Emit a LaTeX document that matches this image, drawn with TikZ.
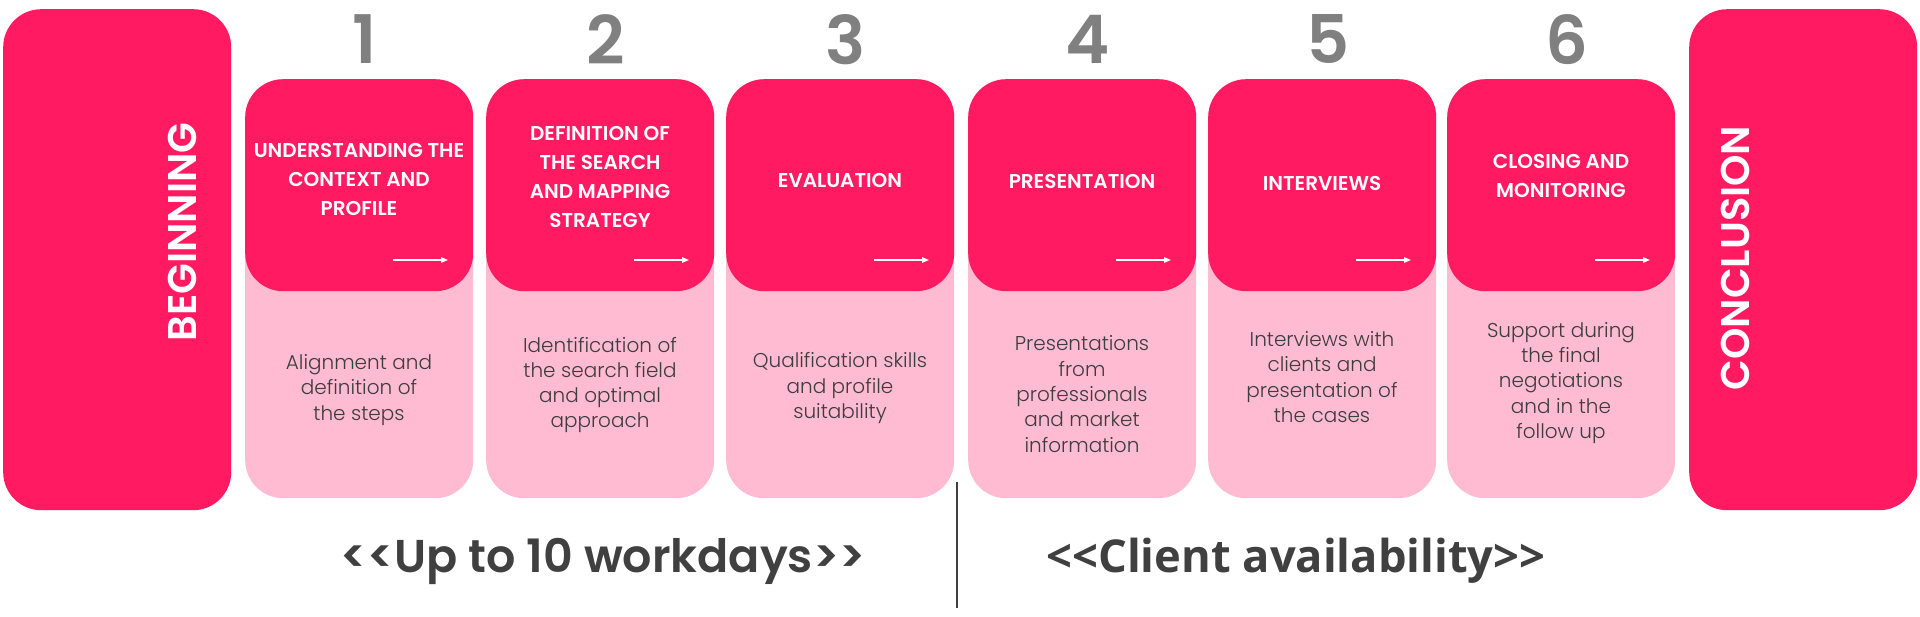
\documentclass[tikz,border=0pt]{standalone}
\usepackage{fontspec}
\usetikzlibrary{arrows.meta}
\newfontfamily\poppins{Poppins}
\IfFontExistsTF{Poppins Light}{\newfontfamily\bodyfont{Poppins Light}}{\newcommand\bodyfont{\poppins}}
\IfFontExistsTF{Poppins SemiBold}{\newfontfamily\headfont{Poppins SemiBold}}{\newcommand\headfont{\poppins\bfseries}}
\newfontfamily\opensans{Open Sans}
\definecolor{mag}{HTML}{FF1A62}
\definecolor{lpink}{HTML}{FFBBD1}
\definecolor{numgrey}{HTML}{808080}
\definecolor{bodygrey}{HTML}{3D3D3D}
\definecolor{botgrey}{HTML}{404040}
\tikzset{
  endbox/.style={fill=mag, rounded corners=38pt, minimum width=228pt, minimum height=501pt, inner sep=0pt, anchor=north west},
  darkbox/.style={fill=mag, rounded corners=38pt, minimum width=228pt, minimum height=212pt, inner sep=0pt, anchor=north west},
  lightbox/.style={fill=lpink, rounded corners=38pt, minimum width=228pt, minimum height=419pt, inner sep=0pt, anchor=north west},
  numtext/.style={text=numgrey, inner sep=0pt, font=\headfont\fontsize{67}{67}\selectfont},
  headtext/.style={text=white, align=center, inner sep=0pt, font=\headfont\fontsize{20}{29}\selectfont},
  bodytext/.style={text=bodygrey, align=center, inner sep=0pt, font=\bodyfont\fontsize{20}{25.3}\selectfont},
  endtext/.style={text=white, rotate=90, inner sep=0pt, font=\headfont\fontsize{40}{40}\selectfont},
  arr/.style={white, line width=1.3pt, -{Triangle[length=7pt,width=5.5pt]}},
  bottext/.style={text=botgrey, inner sep=0pt},
}
\begin{document}
\begin{tikzpicture}[x=1pt,y=-1pt]
\useasboundingbox[fill=white] (0,0) rectangle (1920,616);
% end boxes
\node[endbox] (beg) at (3,9) {};
\node[endtext] (begt) at (182,232) {BEGINNING};
\node[endbox] (con) at (1689,9) {};
\node[endtext] (cont) at (1735,258) {CONCLUSION};
% steps
\foreach \i/\x/\hy/\by/\head/\body in {
  1/245/179/390/{UNDERSTANDING THE\\CONTEXT AND\\PROFILE}/{Alignment and\\definition of\\the steps},
  2/486/177/385/{DEFINITION OF\\THE SEARCH\\AND MAPPING\\STRATEGY}/{Identification of\\the search field\\and optimal\\approach},
  3/726/180/388/{EVALUATION}/{Qualification skills\\and profile\\suitability},
  4/968/181/394/{PRESENTATION}/{Presentations\\from\\professionals\\and market\\information},
  5/1208/183/377/{INTERVIEWS}/{Interviews with\\clients and\\presentation of\\the cases},
  6/1447/176/383/{CLOSING AND\\MONITORING}/{Support during\\the final\\negotiations\\and in the\\follow up}}{
  \node[lightbox] (l\i) at (\x,79) {};
  \node[darkbox] (d\i) at (\x,79) {};
  \node[numtext] (n\i) at (\x+120,39.5) {\i};
  \node[headtext] (h\i) at (\x+114,\hy) {\head};
  \node[bodytext] (b\i) at (\x+114,\by) {\body};
  \coordinate (as\i) at (\x+148,260);
  \coordinate (ae\i) at (\x+203,260);
  \draw[arr] (as\i) -- (ae\i);
}
% bottom
\node[bottext, font=\headfont\fontsize{46}{46}\selectfont] (w) at (603,561) {<<Up to 10 workdays>>};
\node[bottext, font=\opensans\bfseries\fontsize{45.3}{45.3}\selectfont] (c) at (1296,561) {<<Client availability>>};
\coordinate (vt) at (957,482);
\coordinate (vb) at (957,608);
\draw[botgrey, line width=2pt] (vt) -- (vb);
\end{tikzpicture}
\end{document}
